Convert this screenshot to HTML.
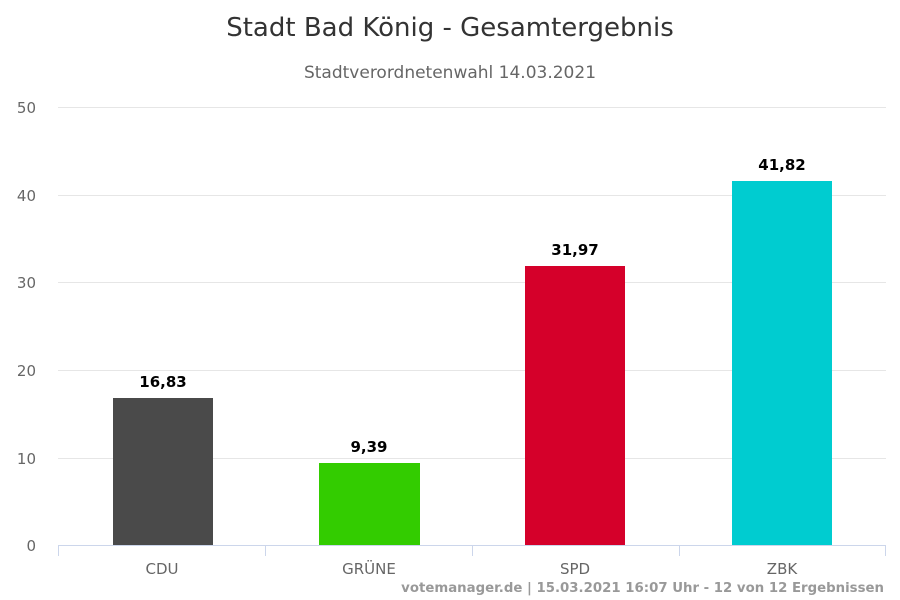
<!DOCTYPE html>
<html><head><meta charset="utf-8"><style>
body{margin:0;background:#fff;}
svg{display:block;font-family:"DejaVu Sans","Liberation Sans",sans-serif;}
</style></head><body>
<svg width="900" height="600" xmlns="http://www.w3.org/2000/svg">
<rect width="900" height="600" fill="#fff"/>
<text x="450" y="36" text-anchor="middle" font-size="26" fill="#333">Stadt Bad König - Gesamtergebnis</text>
<text x="450" y="78" text-anchor="middle" font-size="17" fill="#666">Stadtverordnetenwahl 14.03.2021</text>
<g stroke="#e6e6e6" stroke-width="1">
<line x1="58" x2="886" y1="107.5" y2="107.5"/>
<line x1="58" x2="886" y1="195.5" y2="195.5"/>
<line x1="58" x2="886" y1="282.5" y2="282.5"/>
<line x1="58" x2="886" y1="370.5" y2="370.5"/>
<line x1="58" x2="886" y1="458.5" y2="458.5"/>
</g>
<g font-size="15" fill="#666" text-anchor="end">
<text x="36" y="113">50</text><text x="36" y="201">40</text><text x="36" y="288">30</text>
<text x="36" y="376">20</text><text x="36" y="464">10</text><text x="36" y="551">0</text>
</g>
<rect x="113" y="398" width="100" height="147" fill="#4a4a4a"/>
<rect x="319" y="463" width="101" height="82" fill="#33cc00"/>
<rect x="525" y="266" width="100" height="279" fill="#d5002a"/>
<rect x="732" y="181" width="100" height="364" fill="#00ccd0"/>
<g font-size="15" font-weight="bold" fill="#000" text-anchor="middle">
<text x="163" y="387">16,83</text><text x="369" y="452">9,39</text>
<text x="575" y="255">31,97</text><text x="782" y="170">41,82</text>
</g>
<g stroke="#ccd6eb" stroke-width="1">
<line x1="58" x2="886" y1="545.5" y2="545.5"/>
<line x1="58.5" x2="58.5" y1="545" y2="556"/>
<line x1="265.5" x2="265.5" y1="545" y2="556"/>
<line x1="472.5" x2="472.5" y1="545" y2="556"/>
<line x1="679.5" x2="679.5" y1="545" y2="556"/>
<line x1="885.5" x2="885.5" y1="545" y2="556"/>
</g>
<g font-size="15" fill="#666" text-anchor="middle">
<text x="162" y="574">CDU</text><text x="369" y="574">GRÜNE</text>
<text x="575" y="574">SPD</text><text x="782" y="574">ZBK</text>
</g>
<text x="884" y="592" text-anchor="end" font-size="13.3" font-weight="bold" fill="#999">votemanager.de | 15.03.2021 16:07 Uhr - 12 von 12 Ergebnissen</text>
</svg>
</body></html>
